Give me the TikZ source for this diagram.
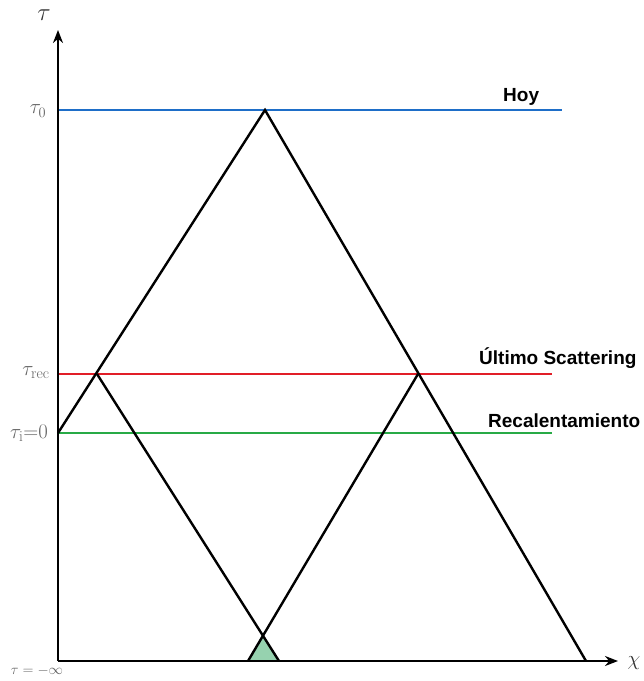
\documentclass[tikz,border=0pt]{standalone}
\usepackage{fontspec}
\newfontfamily\labfont{Liberation Sans}
\usetikzlibrary{arrows.meta}
\definecolor{hoyblue}{RGB}{30,110,200}
\definecolor{recred}{RGB}{225,30,40}
\definecolor{reheatgreen}{RGB}{40,170,70}
\definecolor{conefill}{RGB}{150,210,175}
\definecolor{taugray}{RGB}{100,100,100}
\tikzset{
  axisline/.style={line width=2.4pt,-{Stealth[length=13pt,width=10pt]}},
  coneline/.style={line width=2.4pt,black},
  epochline/.style={line width=1.8pt},
  eplabel/.style={font=\labfont\bfseries\fontsize{19}{22}\selectfont,anchor=base west,inner sep=0pt},
  taulabel/.style={text=taugray,font=\fontsize{22}{26}\selectfont,inner sep=0pt}
}
\begin{document}
\begin{tikzpicture}[x=1pt,y=-1pt]
\useasboundingbox (0,0) rectangle (644,681);
% coordinates
\coordinate (O) at (58,661);
\coordinate (Ytop) at (58,30);
\coordinate (Xend) at (618,661);
\coordinate (apex) at (265,110);
\coordinate (L0) at (58,433);
\coordinate (Rbot) at (586,661);
\coordinate (recL) at (97,374);
\coordinate (recR) at (418,374);
\coordinate (cross) at (262,635);
\coordinate (bL) at (248,661);
\coordinate (bR) at (279,661);
\coordinate (hoyS) at (58,110);
\coordinate (hoyE) at (562,110);
\coordinate (recS) at (58,374);
\coordinate (recE) at (552,374);
\coordinate (reS) at (58,433);
\coordinate (reE) at (552,433);
% fill
\fill[conefill] (bL) -- (cross) -- (bR) -- cycle;
% epoch lines
\draw[epochline,hoyblue] (hoyS) -- (hoyE);
\draw[epochline,recred] (recS) -- (recE);
\draw[epochline,reheatgreen] (reS) -- (reE);
% cones
\draw[coneline,line join=miter] (L0) -- (apex) -- (Rbot);
\draw[coneline] (recL) -- (bR);
\draw[coneline] (recR) -- (bL);
% axes
\draw[axisline] (O) -- (Ytop);
\draw[axisline] (O) -- (Xend);
% labels
\node[eplabel] (hoy) at (503,101) {Hoy};
\node[eplabel] (ult) at (479,364) {Último Scattering};
\node[eplabel] (reh) at (488,427) {Recalentamiento};
\node[taulabel,text=black!80,font=\fontsize{26}{28}\selectfont] (tau) at (44,15) {$\tau$};
\node[taulabel] (tau0) at (38,111) {$\tau_0$};
\node[taulabel] (taurec) at (36,373) {$\tau_{\mathrm{rec}}$};
\node[taulabel] (taui) at (29,433) {$\tau_{\mathrm{i}}{=}0$};
\node[taulabel,font=\fontsize{15}{17}\selectfont] (taum) at (37,671) {$\tau = -\infty$};
\node[taulabel,text=black!80,font=\fontsize{21}{24}\selectfont] (chi) at (634,663) {$\chi$};
\end{tikzpicture}
\end{document}
